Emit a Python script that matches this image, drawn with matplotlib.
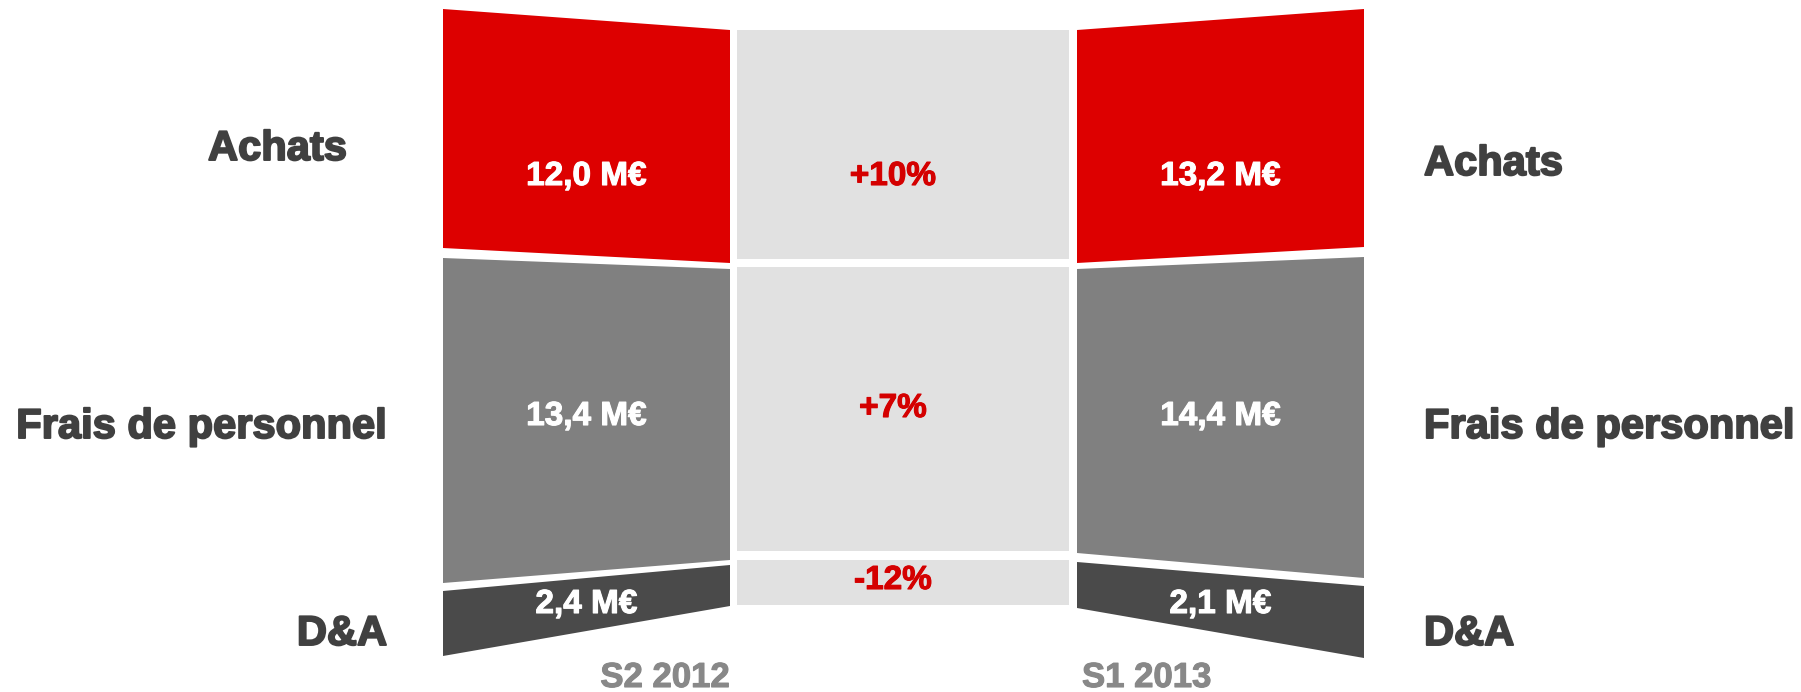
import matplotlib
matplotlib.use("Agg")
import matplotlib.pyplot as plt
import matplotlib.patheffects as pe

# ---- data ----
categories = ["Achats", "Frais de personnel", "D&A"]
values_s2_2012 = [12.0, 13.4, 2.4]
values_s1_2013 = [13.2, 14.4, 2.1]
changes = ["+10%", "+7%", "-12%"]
periods = ["S2 2012", "S1 2013"]

# ---- styles ----
seg_colors = ["#DD0000", "#808080", "#4A4A4A"]
mid_color = "#E1E1E1"
label_color = "#404040"
change_color = "#D40000"
period_color = "#888888"
FONT = "Liberation Sans"

# ---- layout (pixel geometry of the stylised columns) ----
W, H = 1801, 692
left_x = (443, 730)
right_x = (1077, 1364)
mid_x = (737, 1069)
left_outer = [(9, 248), (258, 583), (591, 656)]
left_inner = [(30, 263), (269, 560), (565, 606)]
right_inner = [(30, 263), (269, 553), (562, 608)]
right_outer = [(9, 247), (257, 578), (586, 658)]
mid_rows = [(30, 259), (267, 551), (560, 605)]
value_base = [185, 425, 613]
change_base = [185, 417, 589]
change_x = 893
label_left_right_edge = [347, 387, 387]
label_left_base = [160, 438, 645]
label_right_x = 1424
label_right_base = [175, 438, 645]
period_base = 687

fig = plt.figure(figsize=(W / 100, H / 100), dpi=100)
ax = fig.add_axes([0, 0, 1, 1])
ax.set_xlim(0, W)
ax.set_ylim(H, 0)
ax.axis("off")

def fmt(v):
    return f"{v:.1f}".replace(".", ",") + " M€"

heavy_lab = [pe.withStroke(linewidth=1.4, foreground=label_color)]
heavy_white = [pe.withStroke(linewidth=0.8, foreground="white")]
heavy_red = [pe.withStroke(linewidth=0.8, foreground=change_color)]
heavy_gray = [pe.withStroke(linewidth=0.8, foreground=period_color)]

for i, cat in enumerate(categories):
    # left column (S2 2012)
    (lo0, lo1), (li0, li1) = left_outer[i], left_inner[i]
    ax.fill([left_x[0], left_x[1], left_x[1], left_x[0]],
            [lo0, li0, li1, lo1], color=seg_colors[i], lw=0)
    # right column (S1 2013)
    (ri0, ri1), (ro0, ro1) = right_inner[i], right_outer[i]
    ax.fill([right_x[0], right_x[1], right_x[1], right_x[0]],
            [ri0, ro0, ro1, ri1], color=seg_colors[i], lw=0)
    # middle
    m0, m1 = mid_rows[i]
    ax.fill([mid_x[0], mid_x[1], mid_x[1], mid_x[0]],
            [m0, m0, m1, m1], color=mid_color, lw=0)

    ax.text(sum(left_x) / 2, value_base[i], fmt(values_s2_2012[i]),
            ha="center", va="baseline", color="white", fontsize=24,
            fontweight="bold", family=FONT, path_effects=heavy_white)
    ax.text(sum(right_x) / 2, value_base[i], fmt(values_s1_2013[i]),
            ha="center", va="baseline", color="white", fontsize=24,
            fontweight="bold", family=FONT, path_effects=heavy_white)
    ax.text(change_x, change_base[i], changes[i],
            ha="center", va="baseline", color=change_color, fontsize=24,
            fontweight="bold", family=FONT, path_effects=heavy_red)

    ax.text(label_left_right_edge[i], label_left_base[i], cat, ha="right",
            va="baseline", color=label_color, fontsize=30,
            fontweight="bold", family=FONT, path_effects=heavy_lab)
    ax.text(label_right_x, label_right_base[i], cat, ha="left",
            va="baseline", color=label_color, fontsize=30,
            fontweight="bold", family=FONT, path_effects=heavy_lab)

ax.text(left_x[1], period_base, periods[0], ha="right", va="baseline",
        color=period_color, fontsize=25, fontweight="bold", family=FONT,
        path_effects=heavy_gray)
ax.text(right_x[0] + 5, period_base, periods[1], ha="left", va="baseline",
        color=period_color, fontsize=25, fontweight="bold", family=FONT,
        path_effects=heavy_gray)

fig.savefig("out.png", dpi=100, facecolor="white")
